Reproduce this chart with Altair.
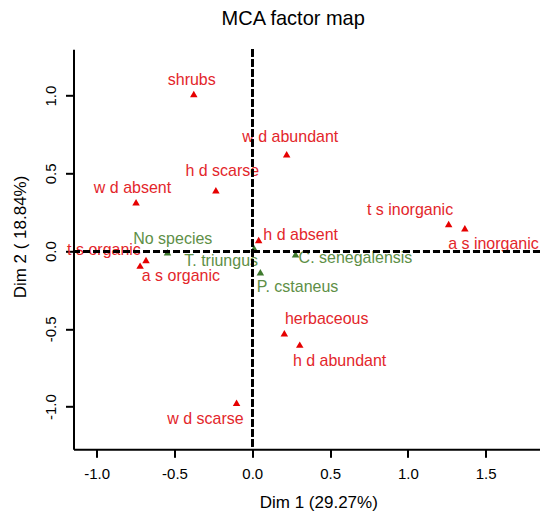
import altair as alt
import pandas as pd

# Category names (active variables in red, supplementary species in green)
names = ["shrubs", "w d abundant", "h d scarse", "w d absent", "t s inorganic",
         "a s inorganic", "h d absent", "t s organic", "a s organic", "herbaceous",
         "h d abundant", "w d scarse",
         "No species", "T. triungus", "C. senegalensis", "P. cstaneus"]
dim1 = [-0.376, 0.221, -0.234, -0.747, 1.262, 1.366, 0.041, -0.683, -0.721, 0.206,
        0.305, -0.101, -0.545, 0.012, 0.278, 0.052]
dim2 = [1.011, 0.623, 0.392, 0.314, 0.175, 0.147, 0.072, -0.057, -0.093, -0.528,
        -0.601, -0.974, -0.007, 0.019, -0.020, -0.136]
groups = ["var"] * 12 + ["sup"] * 4
# label anchor points (data units, as placed in the original)
lab1 = [-0.389, 0.244, -0.193, -0.770, 1.014, 1.550, 0.311, -0.953, -0.459, 0.478,
        0.561, -0.301, -0.511, -0.200, 0.663, 0.291]
lab2 = [1.101, 0.736, 0.518, 0.408, 0.265, 0.046, 0.102, 0.008, -0.157, -0.436,
        -0.706, -1.077, 0.077, -0.061, -0.046, -0.232]

main_title = ["MCA factor map"]
x_title = "Dim 1 (29.27%)"
y_title = "Dim 2 ( 18.84%)"
x_ticks = [-1.0, -0.5, 0.0, 0.5, 1.0, 1.5]
y_ticks = [-1.0, -0.5, 0.0, 0.5, 1.0]
x_domain = [-1.149, 1.849]
y_domain = [-1.274, 1.298]

df = pd.DataFrame({"name": names, "dim1": dim1, "dim2": dim2, "group": groups,
                   "lab1": lab1, "lab2": lab2})
df_title = pd.DataFrame({"t": main_title})

FONT = "Liberation Sans"
label_expr = "replace(format(datum.value, '.1f'), '\u2212', '-')"

xscale = alt.Scale(domain=x_domain, nice=False, zero=False)
yscale = alt.Scale(domain=y_domain, nice=False, zero=False)

x_axis = alt.Axis(values=x_ticks, labelExpr=label_expr, grid=False,
                  domainColor="black", domainWidth=2, tickColor="black", tickWidth=2,
                  tickSize=8, labelFont=FONT, labelFontSize=15, labelColor="black",
                  labelBaseline="alphabetic", labelPadding=21, labelFlush=False,
                  labelOverlap=False, title=x_title, titleFont=FONT,
                  titleFontSize=17, titleFontWeight="normal", titleColor="black",
                  titleX=244.8, titleY=58, titleBaseline="alphabetic", titleAlign="center")
y_axis = alt.Axis(values=y_ticks, labelExpr=label_expr, grid=False,
                  domainColor="black", domainWidth=2, tickColor="black", tickWidth=2,
                  tickSize=8, labelFont=FONT, labelFontSize=15, labelColor="black",
                  labelAngle=270, labelAlign="center", labelBaseline="alphabetic",
                  labelPadding=10.5, labelFlush=False, labelOverlap=False,
                  title=y_title, titleFont=FONT, titleFontSize=17,
                  titleFontWeight="normal", titleColor="black", titleAngle=270,
                  titleX=-53.5, titleY=187.2, titleAlign="center", titleBaseline="middle")

color_pts = alt.Scale(domain=["var", "sup"], range=["#E60000", "#3F7A2E"])
color_txt = alt.Scale(domain=["var", "sup"], range=["#E3262B", "#5E8F47"])

points = alt.Chart(df).mark_point(shape="triangle-up", filled=True, size=56, opacity=1).encode(
    x=alt.X("dim1:Q", scale=xscale, axis=x_axis),
    y=alt.Y("dim2:Q", scale=yscale, axis=y_axis),
    color=alt.Color("group:N", scale=color_pts, legend=None),
)

labels = alt.Chart(df).mark_text(font=FONT, fontSize=16, baseline="middle", align="center").encode(
    x=alt.X("lab1:Q", scale=xscale, title=x_title),
    y=alt.Y("lab2:Q", scale=yscale, title=y_title),
    text="name:N",
    color=alt.Color("group:N", scale=color_txt, legend=None),
)

hline = alt.Chart(df).mark_rule(color="black", strokeWidth=2.5, strokeDash=[7, 3]).encode(
    y=alt.datum(0.0)
)
vline = alt.Chart(df).mark_rule(color="black", strokeWidth=2.5, strokeDash=[7, 3]).encode(
    x=alt.datum(0.0)
)

title = alt.Chart(df_title).mark_text(font=FONT, fontSize=20, color="black",
                                      align="center", baseline="alphabetic").encode(
    text="t:N", x=alt.value(219.7), y=alt.value(-24.3)
)

chart = alt.layer(points, labels, hline, vline, title).resolve_scale(color="independent").properties(
    width=466.5,
    height=400,
    autosize=alt.AutoSizeParams(type="none"),
    padding={"left": 65.5, "top": 41.3, "right": 0, "bottom": 62},
).configure_view(strokeWidth=0)

chart.save("out.html", embed_options={"renderer": "svg", "actions": False})
